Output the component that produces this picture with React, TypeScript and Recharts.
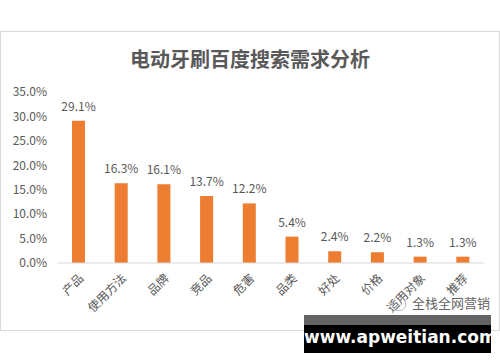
import React from "react";
import { BarChart, Bar, XAxis, YAxis, LabelList } from "recharts";

const categories = ["产品", "使用方法", "品牌", "竞品", "危害", "品类", "好处", "价格", "适用对象", "推荐"];
const shares = [0.291, 0.163, 0.161, 0.137, 0.122, 0.054, 0.024, 0.022, 0.013, 0.013];
const yTicks = [0, 0.05, 0.1, 0.15, 0.2, 0.25, 0.3, 0.35];

const data = categories.map((name, i) => ({ name, value: shares[i] }));

const font = '"Noto Sans CJK SC", "Noto Sans", sans-serif';
const pct = (v: number) => (v * 100).toFixed(1) + "%";

const App: React.FC = () => {
  return (
    <div style={{ position: "relative", width: 500, height: 362, fontFamily: font, background: "#fff" }}>
      <style>{`body{margin:0}`}</style>
      <div
        style={{
          position: "absolute",
          left: 0,
          top: 31,
          width: 498,
          height: 298,
          border: "1px solid #d9d9d9",
        }}
      />
      <div
        style={{
          position: "absolute",
          left: 0,
          top: 45,
          width: 500,
          textAlign: "center",
          fontSize: 20,
          fontWeight: "bold",
          color: "#595959",
          lineHeight: "28px",
        }}
      >
        电动牙刷百度搜索需求分析
      </div>
      <div style={{ position: "absolute", left: 0, top: 0 }}>
        <BarChart
          width={500}
          height={362}
          data={data}
          margin={{ top: 92, right: 16, left: 0, bottom: 0 }}
          barCategoryGap="35%"
        >
          <XAxis
            dataKey="name"
            interval={0}
            height={99}
            angle={-45}
            textAnchor="end"
            tickLine={false}
            axisLine={{ stroke: "#d9d9d9" }}
            tick={{ fontSize: 12, fill: "#595959", fontFamily: font }}
            tickMargin={4}
          />
          <YAxis
            domain={[0, 0.35]}
            ticks={yTicks}
            tickFormatter={pct}
            axisLine={false}
            tickLine={false}
            width={57}
            tickMargin={4}
            tick={{ fontSize: 12, fill: "#595959", fontFamily: font }}
          />
          <Bar dataKey="value" fill="#ED7D31" barSize={13} isAnimationActive={false}>
            <LabelList
              dataKey="value"
              position="top"
              offset={10}
              formatter={(v: any) => pct(Number(v))}
              style={{ fontSize: 12, fill: "#595959", fontFamily: font }}
            />
          </Bar>
        </BarChart>
      </div>
      <div
        style={{
          position: "absolute",
          left: 392,
          top: 293,
          fontSize: 13,
          color: "#666",
          whiteSpace: "nowrap",
        }}
      >
        <span style={{ display: "inline-block", width: 12, height: 12, borderRadius: 6, border: "1px solid #bbb", marginRight: 6, verticalAlign: "middle" }} />
        全栈全网营销
      </div>
      <div style={{ position: "absolute", left: 304, top: 315, width: 187, height: 10, background: "#646464" }} />
      <div
        style={{
          position: "absolute",
          left: 304,
          top: 325,
          width: 187,
          height: 28,
          background: "#000",
          color: "#fff",
          fontFamily: '"DejaVu Sans", sans-serif',
          fontWeight: "bold",
          fontSize: 17,
          lineHeight: "24px",
          textAlign: "center",
        }}
      >
        www.apweitian.com
      </div>
    </div>
  );
};

export default App;
